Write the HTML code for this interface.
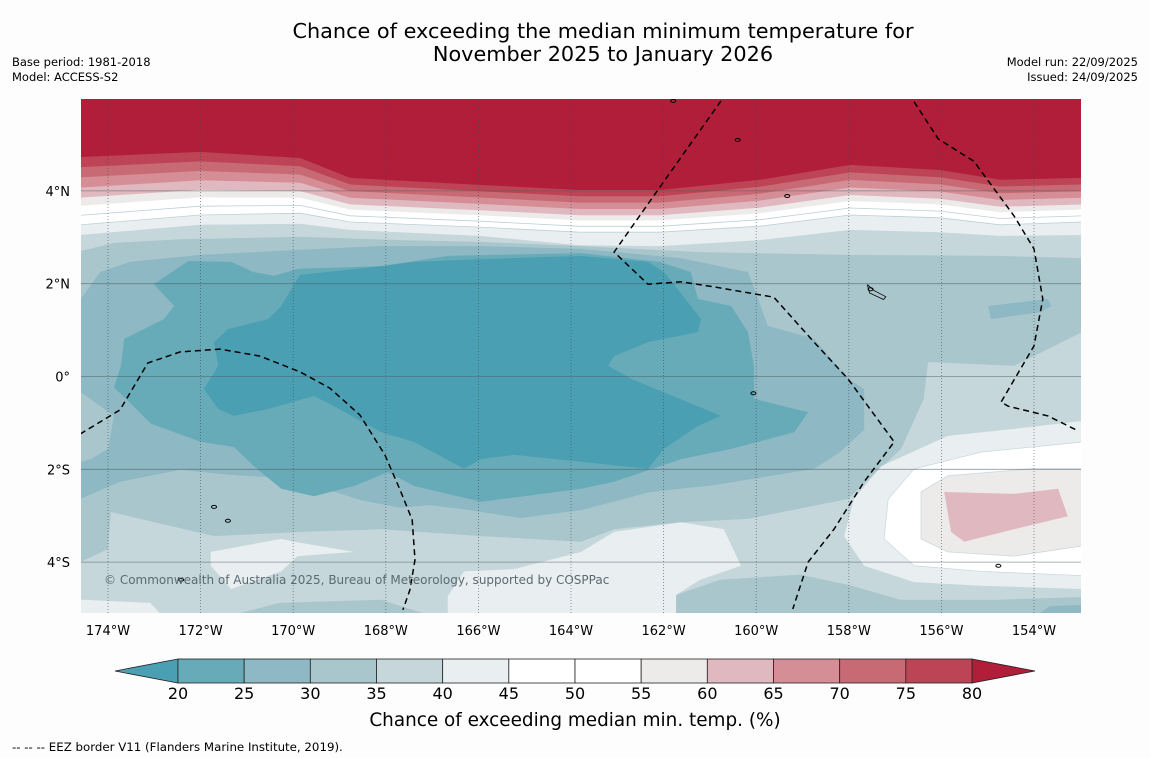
<!DOCTYPE html>
<html><head><meta charset="utf-8"><title>Chance of exceeding the median minimum temperature</title>
<style>
html,body{margin:0;padding:0;background:#fdfdfd;}
svg{display:block;font-family:"DejaVu Sans","Liberation Sans",sans-serif;}
</style></head>
<body>
<svg id="chart" width="1150" height="758" viewBox="0 0 1150 758" xmlns="http://www.w3.org/2000/svg">
<rect width="1150" height="758" fill="#fdfdfd"/>
<text x="603" y="38" font-size="20.8" text-anchor="middle" fill="#000">Chance of exceeding the median minimum temperature for</text>
<text x="603" y="61" font-size="20.8" text-anchor="middle" fill="#000">November 2025 to January 2026</text>
<text x="12" y="66" font-size="11.5">Base period: 1981-2018</text>
<text x="12" y="81" font-size="11.5">Model: ACCESS-S2</text>
<text x="1138" y="66" font-size="11.5" text-anchor="end">Model run: 22/09/2025</text>
<text x="1138" y="81" font-size="11.5" text-anchor="end">Issued: 24/09/2025</text>
<defs><clipPath id="mapclip"><rect x="81" y="99" width="1000" height="514"/></clipPath></defs>
<g id="map" clip-path="url(#mapclip)"></g>
<g id="axes"></g>
<g id="cbar"></g>
<text x="575" y="726" font-size="18.4" text-anchor="middle">Chance of exceeding median min. temp. (%)</text>
<text x="12" y="751" font-size="11.8">--  --  -- EEZ border V11 (Flanders Marine Institute, 2019).</text>
</svg>
<script>
// ---- data ----
const lonTicks = [-174,-172,-170,-168,-166,-164,-162,-160,-158,-156,-154];
const latTicks = [4,2,0,-2,-4];
const latTickLabels = ["4°N","2°N","0°","2°S","4°S"];
const cbLevels = [20,25,30,35,40,45,50,55,60,65,70,75,80];
const cbColors = ["#68abb8","#8db8c4","#a8c6cb","#c6d7db","#e9eff1","#ffffff","#ffffff","#edeaea","#e0b8bf","#d58d96","#c86a74","#bd4455"];
const cbUnder = "#4aa0b2";
const cbOver = "#b01e3a";
// northern warm front: sample longitudes and contour latitudes
const frontLons = [-174.6,-172.01,-169.85,-168.77,-165.97,-163.81,-162.08,-159.92,-157.97,-156.03,-154.73,-152.95];
const front80 = [4.73,4.84,4.71,4.28,4.13,4.02,4.02,4.24,4.56,4.45,4.24,4.28];
const front45 = [3.27,3.48,3.52,3.33,3.22,3.11,3.11,3.24,3.48,3.42,3.27,3.33];
const front40 = [3.05,3.27,3.29,3.16,3.03,2.83,2.81,2.94,3.16,3.11,3.03,3.05];
const frontFrac = {55:0.72,60:0.6,65:0.45,70:0.3,75:0.15,80:0};
// contour regions [lon,lat]
const region30 = [[-174.6,2.70],[-173.87,2.88],[-172.42,2.96],[-169.85,3.01],[-167.69,2.94],[-165.94,2.90],[-163.78,2.81],[-161.21,2.68],[-157.97,2.62],[-154.73,2.60],[-152.95,2.55],[-152.95,0.96],[-154.43,0.23],[-156.29,0.31],[-156.38,-0.48],[-156.87,-1.56],[-158.02,-2.64],[-160.18,-3.07],[-161.62,-3.14],[-163.07,-3.29],[-163.78,-3.56],[-165.94,-3.44],[-168.10,-3.29],[-169.83,-3.35],[-171.71,-3.44],[-173.94,-2.92],[-174.0,-3.72],[-174.6,-4.00]];
const region25 = [[-174.6,1.65],[-174.17,2.25],[-173.52,2.47],[-172.01,2.62],[-169.85,2.73],[-168.12,2.81],[-165.97,2.81],[-163.78,2.75],[-161.62,2.55],[-160.18,2.25],[-159.96,1.67],[-159.75,1.09],[-158.75,0.81],[-158.02,-0.05],[-157.67,-0.27],[-157.67,-1.15],[-158.19,-1.63],[-158.75,-1.99],[-160.91,-2.34],[-162.29,-2.49],[-163.78,-2.88],[-165.10,-3.05],[-166.18,-2.88],[-167.05,-2.77],[-167.69,-2.83],[-168.56,-2.66],[-169.21,-2.45],[-170.18,-2.19],[-171.36,-2.12],[-172.44,-2.01],[-173.74,-2.27],[-174.6,-2.64]];
const notch30 = [[-174.6,-0.33],[-173.87,-0.85],[-174.0,-1.56],[-174.37,-1.78],[-174.6,-1.84]];
const region20 = [[-173.87,-0.23],[-173.07,-1.02],[-171.99,-1.41],[-171.28,-1.52],[-170.85,-1.93],[-170.26,-2.42],[-169.55,-2.58],[-168.69,-2.36],[-167.95,-2.06],[-167.39,-2.36],[-165.94,-2.70],[-163.78,-2.42],[-163.07,-2.27],[-161.62,-1.78],[-160.54,-1.56],[-159.18,-1.20],[-158.88,-0.77],[-160.05,-0.48],[-160.05,0.23],[-160.18,0.96],[-160.54,1.52],[-161.26,1.67],[-161.41,2.25],[-162.08,2.47],[-163.78,2.66],[-166.66,2.60],[-168.10,2.38],[-169.90,2.32],[-170.41,2.17],[-170.85,2.25],[-171.34,2.47],[-172.27,2.49],[-173.01,1.99],[-172.57,1.52],[-172.79,1.24],[-173.65,0.81],[-173.72,0.23]];
const regionUnder = [[-169.98,1.99],[-170.26,1.52],[-170.54,1.24],[-171.41,1.02],[-171.71,0.74],[-171.62,0.23],[-171.93,-0.27],[-171.62,-0.70],[-171.28,-0.85],[-170.54,-0.70],[-169.55,-0.42],[-169.12,-0.64],[-168.10,-1.20],[-167.39,-1.41],[-166.31,-1.99],[-165.94,-1.78],[-165.23,-1.69],[-163.78,-1.84],[-162.34,-1.99],[-161.99,-1.56],[-161.26,-1.07],[-160.76,-0.85],[-161.26,-0.64],[-162.70,-0.05],[-163.20,0.23],[-163.07,0.44],[-162.34,0.74],[-161.26,0.96],[-161.19,1.24],[-161.41,1.52],[-161.99,2.25],[-162.34,2.47],[-163.78,2.60],[-165.94,2.53],[-167.39,2.47],[-168.10,2.38],[-169.85,2.19]];
const blob40 = [[-152.95,-0.96],[-154.43,-1.13],[-155.86,-1.28],[-157.30,-1.93],[-157.89,-2.64],[-158.10,-3.44],[-157.67,-4.08],[-156.59,-4.43],[-155.14,-4.51],[-152.95,-4.58]];
const blob45 = [[-152.95,-1.41],[-155.14,-1.63],[-156.59,-1.99],[-157.15,-2.64],[-157.24,-3.50],[-156.59,-4.08],[-155.14,-4.20],[-152.95,-4.29]];
const blob55 = [[-152.95,-1.99],[-154.06,-1.99],[-155.86,-2.14],[-156.44,-2.49],[-156.44,-3.50],[-155.86,-3.78],[-154.43,-3.87],[-152.95,-3.65]];
const blob60 = [[-155.94,-2.49],[-154.43,-2.53],[-153.48,-2.42],[-153.27,-3.01],[-154.43,-3.29],[-155.51,-3.56],[-155.79,-3.35]];
const south30 = [[-161.73,-5.1],[-161.73,-4.71],[-160.78,-4.38],[-159.05,-4.27],[-158.02,-4.49],[-156.89,-4.81],[-154.73,-4.81],[-152.95,-4.75],[-152.95,-5.1]];
const southWest30 = [[-171.15,-5.1],[-170.3,-4.88],[-168.1,-4.81],[-167.2,-5.1]];
const south25 = [[-153.87,-5.1],[-153.66,-4.95],[-152.95,-4.92],[-152.95,-5.1]];
const east25 = [[-154.99,1.52],[-153.70,1.67],[-153.63,1.52],[-153.85,1.39],[-154.93,1.24]];
const patchWest40 = [[-171.78,-3.78],[-170.26,-3.50],[-169.98,-3.56],[-168.69,-3.78],[-169.90,-3.87],[-170.26,-4.20],[-171.34,-4.58],[-171.78,-4.08]];
const patchMid40 = [[-166.66,-4.73],[-166.31,-4.20],[-165.23,-4.15],[-163.78,-3.78],[-163.07,-3.35],[-161.62,-3.14],[-160.70,-3.29],[-160.33,-4.08],[-161.21,-4.38],[-161.73,-4.71],[-161.73,-5.1],[-166.66,-5.1]];
const patchCorner40 = [[-174.6,-4.81],[-173.09,-4.88],[-172.88,-5.1],[-174.6,-5.1]];
const eezWest = [[-174.6,-1.24],[-173.74,-0.72],[-173.14,0.29],[-172.44,0.53],[-171.58,0.59],[-170.72,0.44],[-169.85,0.10],[-169.21,-0.25],[-168.56,-0.83],[-168.02,-1.69],[-167.69,-2.45],[-167.43,-3.09],[-167.37,-3.95],[-167.48,-4.60],[-167.63,-5.03]];
const eezMid = [[-160.76,5.94],[-162.06,4.11],[-163.07,2.68],[-162.34,1.99],[-161.62,2.04],[-160.91,1.93],[-159.62,1.71],[-158.75,0.74],[-158.02,-0.05],[-157.02,-1.41],[-157.67,-2.27],[-158.32,-3.29],[-158.88,-4.00],[-159.21,-5.01]];
const eezEast = [[-156.59,5.92],[-156.07,5.12],[-155.30,4.64],[-154.43,3.46],[-154.00,2.75],[-153.81,1.67],[-154.00,0.66],[-154.71,-0.55],[-154.56,-0.64],[-153.70,-0.85],[-153.05,-1.17]];
const islands = [[-157.53,1.88],[-171.71,-2.81],[-171.41,-3.11],[-172.42,-4.38],[-154.77,-4.08],[-160.06,-0.36],[-159.33,3.89],[-161.79,5.94],[-160.4,5.1]];

// ---- axis functions ----
const X0 = 108, PXLON = 46.3, Y0 = 376.5, PXLAT = 46.4;
const xScale = lon => X0 + (lon + 174) * PXLON;
const yScale = lat => Y0 - lat * PXLAT;
const NS = "http://www.w3.org/2000/svg";
const map = document.getElementById('map');
const axes = document.getElementById('axes');
const cbar = document.getElementById('cbar');
function pts(arr){ return arr.map(p => xScale(p[0]).toFixed(1)+','+yScale(p[1]).toFixed(1)).join(' '); }
function poly(parent, arr, fill, name){
  const el = document.createElementNS(NS,'polygon');
  el.setAttribute('points', pts(arr));
  el.setAttribute('fill', fill);
  
  
  parent.appendChild(el);
  return el;
}
function line(parent, arr, stroke, width, dash, name){
  const el = document.createElementNS(NS,'polyline');
  el.setAttribute('points', pts(arr));
  el.setAttribute('fill','none');
  el.setAttribute('stroke', stroke);
  el.setAttribute('stroke-width', width);
  if (dash) el.setAttribute('stroke-dasharray', dash);
  
  
  parent.appendChild(el);
  return el;
}
const colorFor = lvl => cbColors[cbLevels.indexOf(lvl)];
const LON_W = -174.6, LON_E = -152.9, LAT_N = 6.1, LAT_S = -5.2;

poly(map, [[LON_W,LAT_N],[LON_E,LAT_N],[LON_E,LAT_S],[LON_W,LAT_S]], colorFor(35), 'field-35-40');
poly(map, patchCorner40, colorFor(40), 'field-40-45-corner');
poly(map, patchWest40, colorFor(40), 'field-40-45-west');
poly(map, patchMid40, colorFor(40), 'field-40-45-south');
poly(map, south30, colorFor(30), 'field-30-35-south');
poly(map, southWest30, colorFor(30), 'field-30-35-southwest');
poly(map, south25, colorFor(25), 'field-25-30-south');
poly(map, region30, colorFor(30), 'field-30-35');
poly(map, region25, colorFor(25), 'field-25-30');
poly(map, notch30, colorFor(30), 'field-30-35-notch');
poly(map, east25, colorFor(25), 'field-25-30-east');
poly(map, region20, colorFor(20), 'field-20-25');
poly(map, regionUnder, cbUnder, 'field-below-20');
poly(map, blob40, colorFor(40), 'field-40-45-southeast');
poly(map, blob45, colorFor(45), 'field-45-55-southeast');
poly(map, blob55, colorFor(55), 'field-55-60-southeast');
poly(map, blob60, colorFor(60), 'field-60-65-southeast');
line(map, blob45, '#c9d9dd', 0.8, null, 'contour-45-southeast');
line(map, blob55, '#c9d9dd', 0.8, null, 'contour-55-southeast');

function frontLine(latArr){ return frontLons.map((lo,i)=>[lo,latArr[i]]); }
function band(latArr, fill, name){
  const arr = [[LON_W,LAT_N]].concat(frontLine(latArr)).concat([[LON_E,LAT_N]]);
  return poly(map, arr, fill, name);
}
const interp = f => front80.map((v,i)=> v + f*(front45[i]-v));
band(front40, colorFor(40), 'band-40-45');
band(front45, colorFor(45), 'band-45-55');
line(map, frontLine(interp(0.86)), '#bcd0d5', 0.8, null, 'contour-50');
line(map, frontLine(front45), '#bcd0d5', 0.8, null, 'contour-45');
[55,60,65,70,75].forEach(lvl => { band(interp(frontFrac[lvl]), colorFor(lvl), 'band-'+lvl+'-'+(lvl+5)); });
band(front80, cbOver, 'band-above-80');

lonTicks.forEach(lo => {
  const l = document.createElementNS(NS,'line');
  l.setAttribute('x1', xScale(lo)); l.setAttribute('x2', xScale(lo));
  l.setAttribute('y1', 99); l.setAttribute('y2', 613);
  l.setAttribute('stroke','#3a4a55'); l.setAttribute('stroke-width','0.8'); l.setAttribute('stroke-dasharray','1,2'); l.setAttribute('opacity','0.7');
  
  
  map.appendChild(l);
});
latTicks.forEach(la => {
  const l = document.createElementNS(NS,'line');
  l.setAttribute('x1', 81); l.setAttribute('x2', 1081);
  l.setAttribute('y1', yScale(la)); l.setAttribute('y2', yScale(la));
  l.setAttribute('stroke','#4a5a60'); l.setAttribute('stroke-width','0.8'); l.setAttribute('opacity','0.6');
  
  
  map.appendChild(l);
});

line(map, eezWest, '#000', 1.5, '6,4', 'eez-border-west');
line(map, eezMid, '#000', 1.5, '6,4', 'eez-border-central');
line(map, eezEast, '#000', 1.5, '6,4', 'eez-border-east');
islands.forEach(p => {
  const c = document.createElementNS(NS,'ellipse');
  c.setAttribute('cx', xScale(p[0])); c.setAttribute('cy', yScale(p[1]));
  c.setAttribute('rx', 2.5); c.setAttribute('ry', 1.5);
  c.setAttribute('fill','none'); c.setAttribute('stroke','#000'); c.setAttribute('stroke-width','1');
  
  
  map.appendChild(c);
});
const isl = document.createElementNS(NS,'polyline');
isl.setAttribute('points', pts([[-157.6,1.98],[-157.45,1.85],[-157.2,1.72],[-157.25,1.66],[-157.55,1.8],[-157.6,1.98]]));
isl.setAttribute('fill','none'); isl.setAttribute('stroke','#000'); isl.setAttribute('stroke-width','0.8');


map.appendChild(isl);

const cr = document.createElementNS(NS,'text');
cr.setAttribute('x', 104); cr.setAttribute('y', 584); cr.setAttribute('font-size','12'); cr.setAttribute('fill','#5c6a70');
cr.textContent = '© Commonwealth of Australia 2025, Bureau of Meteorology, supported by COSPPac';


map.appendChild(cr);

lonTicks.forEach(lo => {
  const t = document.createElementNS(NS,'text');
  t.setAttribute('x', xScale(lo)); t.setAttribute('y', 635); t.setAttribute('font-size','13'); t.setAttribute('text-anchor','middle');
  t.textContent = Math.abs(lo) + '°W';
  
  
  axes.appendChild(t);
});
latTicks.forEach((la,i) => {
  const t = document.createElementNS(NS,'text');
  t.setAttribute('x', 70); t.setAttribute('y', yScale(la)+5); t.setAttribute('font-size','13'); t.setAttribute('text-anchor','end');
  t.textContent = latTickLabels[i];
  
  
  axes.appendChild(t);
});

const CB_X0 = 178, CB_X1 = 972, CB_Y = 659, CB_H = 24, TRI = 63;
const cbX = v => CB_X0 + (v - cbLevels[0]) / (cbLevels[cbLevels.length-1] - cbLevels[0]) * (CB_X1 - CB_X0);
const under = document.createElementNS(NS,'polygon');
under.setAttribute('points', `${CB_X0},${CB_Y} ${CB_X0-TRI},${CB_Y+CB_H/2} ${CB_X0},${CB_Y+CB_H}`);
under.setAttribute('fill', cbUnder); under.setAttribute('stroke','#222'); under.setAttribute('stroke-width','0.8');


cbar.appendChild(under);
const over = document.createElementNS(NS,'polygon');
over.setAttribute('points', `${CB_X1},${CB_Y} ${CB_X1+TRI},${CB_Y+CB_H/2} ${CB_X1},${CB_Y+CB_H}`);
over.setAttribute('fill', cbOver); over.setAttribute('stroke','#222'); over.setAttribute('stroke-width','0.8');


cbar.appendChild(over);
cbColors.forEach((c,i) => {
  const r = document.createElementNS(NS,'rect');
  const x0 = cbX(cbLevels[i]), x1 = cbX(cbLevels[i+1]);
  r.setAttribute('x', x0); r.setAttribute('y', CB_Y); r.setAttribute('width', x1-x0); r.setAttribute('height', CB_H);
  r.setAttribute('fill', c); r.setAttribute('stroke','#222'); r.setAttribute('stroke-width','0.8');
  
  
  cbar.appendChild(r);
});
cbLevels.forEach(v => {
  const t = document.createElementNS(NS,'text');
  t.setAttribute('x', cbX(v)); t.setAttribute('y', 699); t.setAttribute('font-size','16'); t.setAttribute('text-anchor','middle');
  t.textContent = v;
  
  
  cbar.appendChild(t);
});
</script>
</body></html>
